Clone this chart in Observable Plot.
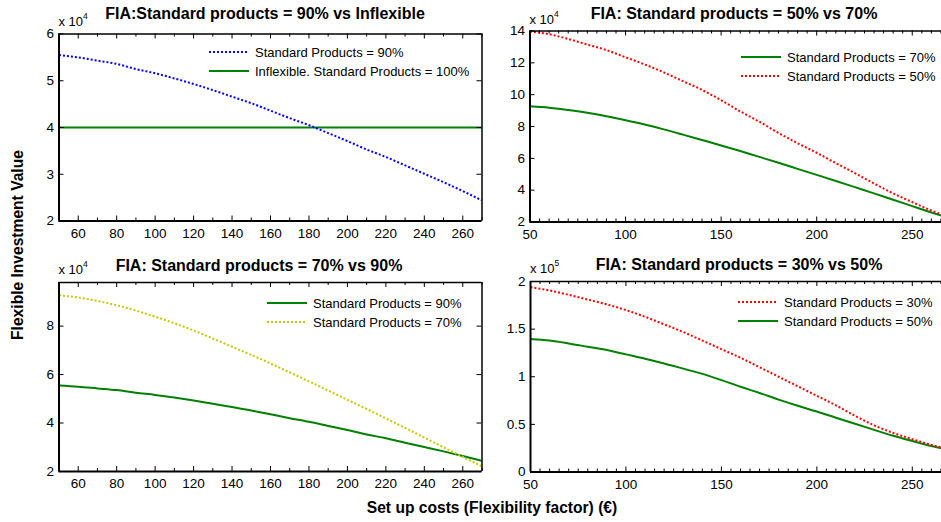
<!DOCTYPE html>
<html><head><meta charset="utf-8">
<script src="https://cdn.jsdelivr.net/npm/d3@7"></script>
<script src="https://cdn.jsdelivr.net/npm/@observablehq/plot@0.6"></script>
<style>
body{margin:0;background:#fff;overflow:hidden;font-family:"Liberation Sans",Arial,sans-serif;color:#000;}
#root{position:relative;width:941px;height:522px;overflow:hidden;background:#fff;}
.abs{position:absolute;}
.title{font-weight:bold;font-size:16px;white-space:nowrap;transform:translate(-50%,-50%);}
.exp{font-size:13px;white-space:nowrap;line-height:14px;}
.exp sup{font-size:8.5px;vertical-align:7px;line-height:0;}
.legend{font-size:13px;}
.legrow{display:flex;align-items:center;height:19px;white-space:nowrap;}
.legrow svg{margin-right:6px;}
.axlabel{font-weight:bold;font-size:15.6px;white-space:nowrap;}
</style></head><body><div id="root"></div><script>
// ---- data ----
const costs = [50,60,70,80,90,100,110,120,130,140,150,160,170,180,190,200,210,220,230,240,250,260,270];
const sp90 = [55500,55000,54300,53600,52500,51600,50500,49300,48000,46600,45200,43600,42000,40500,38800,37100,35300,33700,31900,30100,28300,26400,24400];
const sp70 = [92700,91800,90400,88600,86400,83900,81200,78200,74900,71500,68100,64600,60900,57200,53400,49600,45800,41900,38000,34000,30000,26000,22200];
const sp50 = [139700,138000,135000,131500,128000,123500,119000,114000,108500,103000,96500,89500,83000,76000,69500,63500,57000,50700,44200,38000,32500,27200,22800];
const sp30 = [194000,190600,186000,181000,176000,170000,163000,155000,147000,138000,129000,120000,110000,100000,90000,80000,70000,59000,49000,41000,34500,28500,23500];
const inflexible = costs.map(() => 40000);

const titles = [
  "FIA:Standard products = 90% vs Inflexible",
  "FIA: Standard products = 50% vs 70%",
  "FIA: Standard products = 70% vs 90%",
  "FIA: Standard products = 30% vs 50%"
];
const xLabel = "Set up costs (Flexibility factor) (€)";
const yLabel = "Flexible Investment Value";

const BLUE = "#0000ff", GREEN = "#008000", RED = "#ff0000", YELLOW = "#c8c800";
const DOT = "2,2";

const root = document.getElementById("root");
function add(html, cls, style) {
  const d = document.createElement("div");
  d.className = "abs " + (cls || "");
  Object.assign(d.style, style);
  d.innerHTML = html;
  root.appendChild(d);
  return d;
}

function panel(p) {
  const fw = p.fr - p.fl, fh = p.fb - p.ft;
  const rows = s => costs.map((c, i) => ({x: c, y: s.values[i] / p.scale}));
  const marks = [];
  for (const s of p.series) {
    marks.push(Plot.line(rows(s), {x: "x", y: "y", stroke: s.color, strokeWidth: 2, curve: "monotone-x",
      strokeLinecap: "butt", strokeDasharray: s.dash ? DOT : null, clip: true}));
  }
  const xMinor = p.xMinor.filter(v => !p.xMajor.includes(v));
  marks.push(
    Plot.tickX(p.xMajor, {insetTop: fh - 5, stroke: "#000"}),
    Plot.tickX(p.xMajor, {insetBottom: fh - 5, stroke: "#000"}),
    Plot.tickX(xMinor, {insetTop: fh - 3, stroke: "#000"}),
    Plot.tickX(xMinor, {insetBottom: fh - 3, stroke: "#000"}),
    Plot.tickY(p.yTicks, {insetRight: fw - 5, stroke: "#000"})
  );
  if (p.rightBorder) marks.push(Plot.tickY(p.yTicks, {insetLeft: fw - 5, stroke: "#000"}));
  marks.push(
    Plot.ruleY([p.yDomain[0]], {stroke: "#000", strokeWidth: 2}),
    Plot.ruleY([p.yDomain[1]], {stroke: "#000", strokeWidth: 1.5}),
    Plot.ruleX([p.xDomain[0]], {stroke: "#000", strokeWidth: 2})
  );
  if (p.rightBorder) marks.push(Plot.ruleX([p.xDomain[1]], {stroke: "#000", strokeWidth: 1.5}));
  marks.push(
    Plot.axisX({ticks: p.xMajor, tickSize: 0, tickPadding: 7, tickFormat: d => String(d), label: null, fontSize: 13.5}),
    Plot.axisY({ticks: p.yTicks, tickSize: 0, tickPadding: 5, tickFormat: d => String(d), label: null, fontSize: 13.5})
  );
  const svg = Plot.plot({
    width: p.w, height: p.h,
    marginLeft: p.fl - p.left, marginRight: p.left + p.w - p.fr,
    marginTop: p.ft - p.top, marginBottom: p.top + p.h - p.fb,
    x: {domain: p.xDomain, label: null},
    y: {domain: p.yDomain, label: null},
    style: {fontFamily: '"Liberation Sans", Arial, sans-serif', fontSize: "13.5px", color: "#000", background: "transparent", overflow: "visible"},
    marks
  });
  svg.style.position = "absolute";
  svg.style.left = p.left + "px";
  svg.style.top = p.top + "px";
  root.appendChild(svg);

  add(p.title, "title", {left: p.titleX + "px", top: p.titleY + "px"});
  add("x 10<sup>" + p.exp + "</sup>", "exp", {left: p.fl + "px", top: (p.expY - 7) + "px"});
  const leg = add("", "legend", {left: p.legX + "px", top: (p.legY - 9.5) + "px"});
  for (const s of p.legend) {
    const r = document.createElement("div");
    r.className = "legrow";
    r.innerHTML = `<svg width="40" height="6"><line x1="0" x2="40" y1="3" y2="3" stroke="${s.color}" stroke-width="2" ${s.dash ? `stroke-dasharray="${DOT}"` : ""}/></svg><span>${s.label}</span>`;
    leg.appendChild(r);
  }
}

const xMajorL = [60,80,100,120,140,160,180,200,220,240,260];
const xMinorL = d3.range(50, 271, 10);
const xMajorR = [50,100,150,200,250];
const xMinorR = d3.range(50, 266, 5);

panel({
  left: 0, top: 25, w: 490, h: 225, fl: 58.5, fr: 481.5, ft: 33.5, fb: 220.5,
  xDomain: [50, 270], yDomain: [2, 6], scale: 1e4, exp: 4,
  xMajor: xMajorL, xMinor: xMinorL, yTicks: [2,3,4,5,6], rightBorder: true,
  series: [{values: inflexible, color: GREEN}, {values: sp90, color: BLUE, dash: true}],
  legend: [{label: "Standard Products = 90%", color: BLUE, dash: true},
           {label: "Inflexible. Standard Products = 100%", color: GREEN}],
  title: titles[0], titleX: 265, titleY: 14, expY: 22, legX: 209, legY: 52
});
panel({
  left: 490, top: 22, w: 451, h: 228, fl: 529.5, fr: 941, ft: 30.5, fb: 221.5,
  xDomain: [50, 265.3], yDomain: [2, 14], scale: 1e4, exp: 4,
  xMajor: xMajorR, xMinor: xMinorR, yTicks: [2,4,6,8,10,12,14], rightBorder: false,
  series: [{values: sp70, color: GREEN}, {values: sp50, color: RED, dash: true}],
  legend: [{label: "Standard Products = 70%", color: GREEN},
           {label: "Standard Products = 50%", color: RED, dash: true}],
  title: titles[1], titleX: 734, titleY: 14, expY: 20, legX: 741, legY: 57
});
panel({
  left: 0, top: 274, w: 490, h: 216, fl: 58.5, fr: 481.5, ft: 282, fb: 471,
  xDomain: [50, 270], yDomain: [2, 9.8], scale: 1e4, exp: 4,
  xMajor: xMajorL, xMinor: xMinorL, yTicks: [2,4,6,8], rightBorder: true,
  series: [{values: sp90, color: GREEN}, {values: sp70, color: YELLOW, dash: true}],
  legend: [{label: "Standard Products = 90%", color: GREEN},
           {label: "Standard Products = 70%", color: YELLOW, dash: true}],
  title: titles[2], titleX: 259, titleY: 266, expY: 270, legX: 267, legY: 303
});
panel({
  left: 490, top: 274, w: 451, h: 216, fl: 530, fr: 941, ft: 281, fb: 471.5,
  xDomain: [50, 265.3], yDomain: [0, 2], scale: 1e5, exp: 5,
  xMajor: xMajorR, xMinor: xMinorR, yTicks: [0,0.5,1,1.5,2], rightBorder: false,
  series: [{values: sp50, color: GREEN}, {values: sp30, color: RED, dash: true}],
  legend: [{label: "Standard Products = 30%", color: RED, dash: true},
           {label: "Standard Products = 50%", color: GREEN}],
  title: titles[3], titleX: 739, titleY: 265, expY: 269, legX: 738, legY: 302
});

add(xLabel, "axlabel", {left: "492px", top: "508px", transform: "translate(-50%,-50%)"});
add(yLabel, "axlabel", {left: "18px", top: "245px", transform: "translate(-50%,-50%) rotate(-90deg)"});
</script></body></html>
